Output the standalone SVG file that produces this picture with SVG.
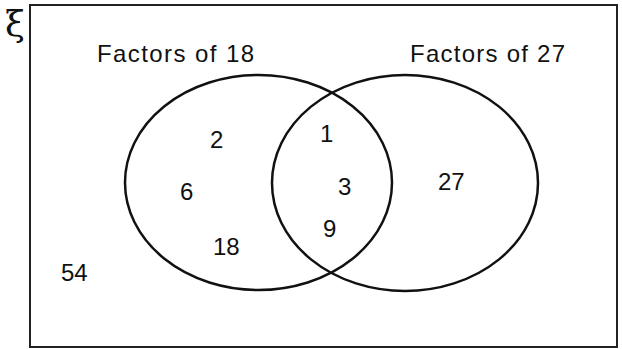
<svg xmlns="http://www.w3.org/2000/svg" width="622" height="349" viewBox="0 0 622 349">
<style>
.t{font-family:"Liberation Sans",Arial,sans-serif;font-size:24px;fill:#111}
.e{fill:none;stroke:#111;stroke-width:2.5}
</style>
<rect width="622" height="349" fill="#fff"/>
<g id="universe">
<rect x="30" y="5" width="587" height="342" fill="none" stroke="#222" stroke-width="2"/>
<text x="15" y="36" font-family="'DejaVu Serif',serif" font-size="36" text-anchor="middle" fill="#111">ξ</text>
<text class="t" x="61" y="281">54</text>
</g>
<g id="setA">
<ellipse class="e" cx="258.5" cy="182.5" rx="133.5" ry="107.5"/>
<text class="t" x="97" y="62" textLength="157">Factors of 18</text>
<text class="t" x="210" y="148">2</text>
<text class="t" x="180" y="200">6</text>
<text class="t" x="213" y="255">18</text>
</g>
<g id="setB">
<ellipse class="e" cx="405" cy="183" rx="133" ry="108"/>
<text class="t" x="410" y="62" textLength="155">Factors of 27</text>
<text class="t" x="438" y="190">27</text>
</g>
<g id="intersection">
<text class="t" x="320" y="142">1</text>
<text class="t" x="338" y="195">3</text>
<text class="t" x="323" y="237">9</text>
</g>
<g id="connectors"/>
</svg>
